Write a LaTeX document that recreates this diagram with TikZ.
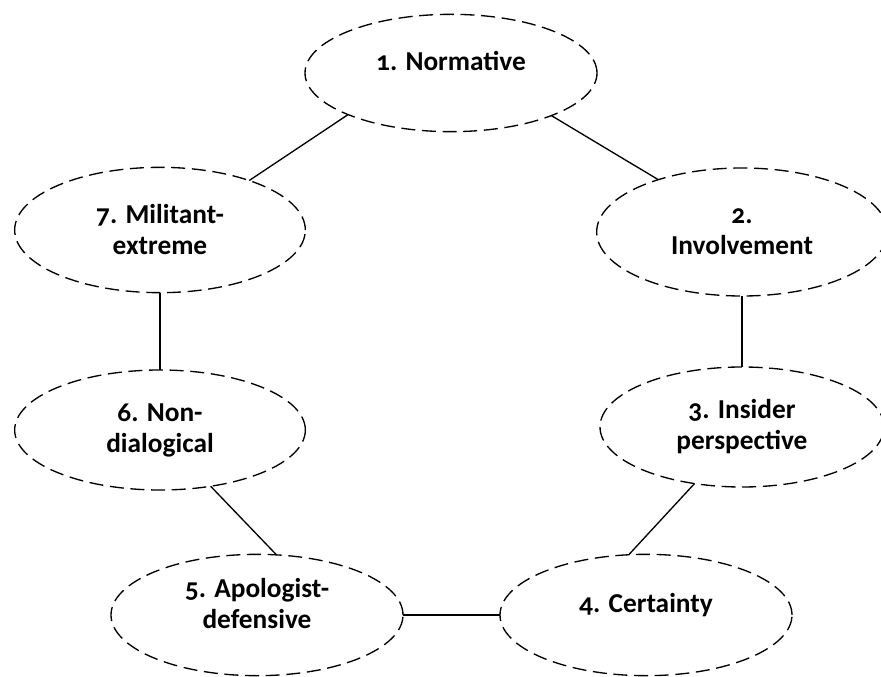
\documentclass[tikz,border=0pt]{standalone}
\usepackage{fontspec}
\setmainfont{Carlito}[Numbers=OldStyle]
\usetikzlibrary{shapes.geometric}
\begin{document}
\begin{tikzpicture}[
		x=0.75pt, y=-0.75pt,
		% Stile per le ellissi tratteggiate con il testo in grassetto
		node style/.style={ellipse, draw=black, line width=1pt, dash pattern=on 10.5pt off 5pt,
			inner sep=0pt, outer sep=0pt, align=center,
			font=\bfseries\fontsize{20.5}{23.25}\selectfont},
		% Testo spostato verso l'alto dentro l'ellisse
		high text/.style={text depth=18pt},
		% Stile per le linee (archi)
		edge style/.style={line width=1pt, color=black}
	]
	\useasboundingbox (0,0) rectangle (881,677);

	% =================================
	% NODI (in senso orario dall'alto)
	% =================================
	\node[node style, high text, minimum width=219pt, minimum height=88pt] (n1) at (451,73) {1. Normative};
	\node[node style, minimum width=218pt, minimum height=96pt] (n2) at (742,232) {2.\\Involvement};
	\node[node style, minimum width=213pt, minimum height=90pt] (n3) at (742,427) {3. Insider\\perspective};
	\node[node style, high text, minimum width=219pt, minimum height=91pt] (n4) at (646,615) {4. Certainty};
	\node[node style, high text, minimum width=219pt, minimum height=91pt] (n5) at (257,615) {5. Apologist-\\defensive};
	\node[node style, minimum width=218pt, minimum height=90pt] (n6) at (160,430) {6. Non-\\dialogical};
	\node[node style, minimum width=218pt, minimum height=94pt] (n7) at (160,230) {7. Militant-\\extreme};

	% =================================
	% CONNESSIONI (Archi)
	% =================================
	\draw[edge style] (n1.337.6) -- (n2.148.2);
	\draw[edge style] (n2.south) -- (n3.north);
	\draw[edge style] (n3.230) -- (n4.106);
	\draw[edge style] (n4.west) -- (n5.east);
	\draw[edge style] (n6.312) -- (n5.72);
	\draw[edge style] (n7.south) -- (n6.north);
	\draw[edge style] (n1.202.6) -- (n7.29.8);

\end{tikzpicture}
\end{document}
